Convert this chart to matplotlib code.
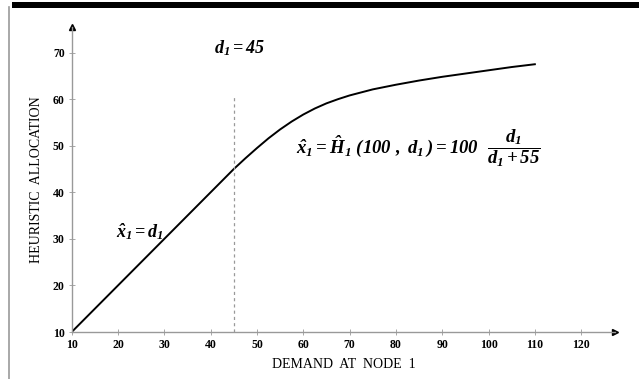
import matplotlib.pyplot as plt
from matplotlib.patches import Rectangle
from matplotlib.lines import Line2D

# values
demand = [10, 45, 47.5, 50, 52.5, 55, 57.5, 60, 62.5, 65, 67.5, 70, 75, 80,
          85, 90, 95, 100, 105, 110]
allocation = [10, 45, 47.3, 49.5, 51.6, 53.5, 55.2, 56.7, 58.0, 59.1, 60.0, 60.8,
              62.1, 63.1, 64.0, 64.8, 65.5, 66.2, 66.9, 67.5]
x_ticks = [10, 20, 30, 40, 50, 60, 70, 80, 90, 100, 110, 120]
y_ticks = [10, 20, 30, 40, 50, 60, 70]
threshold = 45

plt.rcParams['font.family'] = 'Liberation Serif'
plt.rcParams['mathtext.fontset'] = 'custom'
plt.rcParams['mathtext.it'] = 'Liberation Serif:italic:bold'
plt.rcParams['mathtext.rm'] = 'Liberation Serif:italic:bold'
plt.rcParams['mathtext.bf'] = 'Liberation Serif:italic:bold'

fig = plt.figure(figsize=(6.39, 3.79), dpi=100)
ax = fig.add_axes([0.1122, 0.124, 0.8502, 0.8048])

ax.plot(demand, allocation, color='black', lw=1.4, solid_joinstyle='round')
ax.plot([threshold, threshold], [10, 61], color='#999999', lw=0.9, ls=(0, (2.5, 2.5)))

ax.set_xlim(10, 127.3)
ax.set_ylim(10, 75.5)
ax.set_xticks(x_ticks)
ax.set_yticks(y_ticks)
ax.tick_params(direction='inout', length=4, width=0.6, color='#999999',
               labelsize=8.5, pad=3)
for lab in ax.get_xticklabels() + ax.get_yticklabels():
    lab.set_fontweight('bold')

for s in ['top', 'right']:
    ax.spines[s].set_visible(False)
for s in ['left', 'bottom']:
    ax.spines[s].set_color('#999999')
    ax.spines[s].set_linewidth(1.0)

# axis arrow heads
ax.plot(1, 0, '>', color='black', ms=4, transform=ax.transAxes, clip_on=False)
ax.plot(0, 1, '^', color='black', ms=4, transform=ax.transAxes, clip_on=False)

ax.set_xlabel('DEMAND  AT  NODE  1', fontsize=10, labelpad=5)
ax.set_ylabel('HEURISTIC  ALLOCATION', fontsize=10, labelpad=7)

ax.text(46.3, 70.9, r'$d_1 = 45$', fontsize=13, ha='center', va='center')
ax.text(19.6, 31.5, r'$\hat{x}_1 = d_1$', fontsize=13, ha='left', va='center')
ax.text(58.5, 49.5,
        r'$\hat{x}_1 = \hat{H}_1\ (100\ ,\ d_1\,) = 100\ \ \dfrac{d_1}{d_1 + 55}$',
        fontsize=13.5, ha='left', va='center')

# page frame bits
fig.add_artist(Rectangle((12 / 639, 1 - 7.5 / 379), 1, 5.5 / 379,
                         transform=fig.transFigure, color='black', lw=0))
fig.add_artist(Line2D([9 / 639, 9 / 639], [0, 1 - 7 / 379],
                      transform=fig.transFigure, color='#999999', lw=1.2))

fig.savefig('out.png', dpi=100)
